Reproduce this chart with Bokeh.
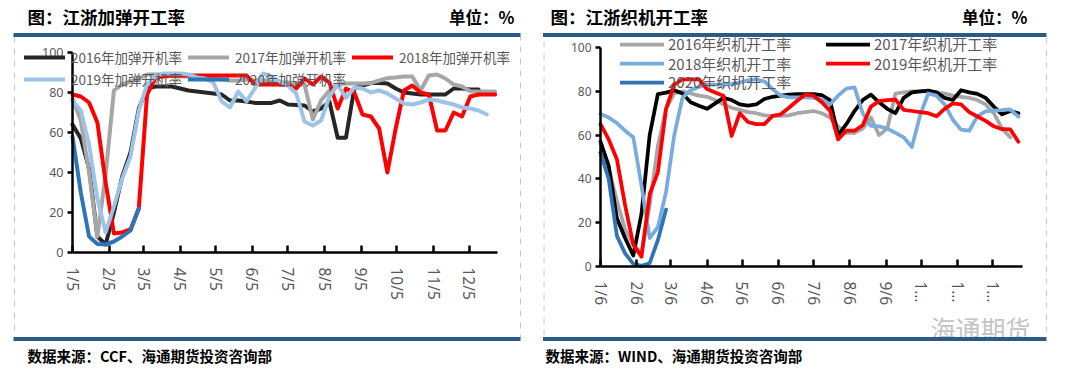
import pandas as pd
from bokeh.plotting import figure
from bokeh.models import Range1d, FixedTicker, Legend, LegendItem, Label, BoxAnnotation
from bokeh.layouts import row
from bokeh.embed import file_html
from bokeh.resources import INLINE

# ---------------- data: left panel (江浙加弹开工率, weekly from 1/5) ----------------
left_start = "2020-01-05"
left_tick_dates = ["2020-01-05", "2020-02-05", "2020-03-05", "2020-04-05", "2020-05-05", "2020-06-05",
                   "2020-07-05", "2020-08-05", "2020-09-05", "2020-10-05", "2020-11-05", "2020-12-05"]
left_tick_labels = ["1/5", "2/5", "3/5", "4/5", "5/5", "6/5", "7/5", "8/5", "9/5", "10/5", "11/5", "12/5"]
left_names = ["2016年加弹开机率", "2017年加弹开机率", "2018年加弹开机率", "2019年加弹开机率", "2020年加弹开机率"]
L2016 = [64, 57, 42, 8, 4, 20, 38, 50, 72, 82, 83, 83, 83, 82, 81, 80.5, 80, 79.5, 79, 76,
         76, 75.5, 74.8, 74.8, 74.8, 76, 74, 73.8, 73.5, 70.5, 72, 75.5, 57.4, 57.4, 82, 83.5, 84.7, 84.7, 84.5, 82,
         80, 79.5, 79, 79, 79, 79, 82, 82, 81.5, 81.5]
L2017 = [77, 66, 40, 8, 39, 81, 84, 85.5, 87, 89, 89, 89, 88.5, 88, 88, 87.5, 87, 87, 86.5, 86,
         86, 86.5, 86, 86, 85.5, 85, 85, 84.5, 84, 66.5, 76, 81, 84, 84.5, 84.5, 84.5, 84.7, 86, 87.2, 87.5,
         88, 88, 81, 88.5, 89, 87, 84, 83, 80.6, 80.5, 80.5, 80.5]
L2018 = [79, 78, 75, 65, 35, 9.5, 10, 11.5, 22, 79, 87.5, 88, 88.5, 88.5, 88.5, 88.5, 88.5, 88.5, 88.5, 88.5,
         88.5, 88.5, 84, 84, 84, 84, 83.9, 82, 87, 84, 88, 85, 72, 82, 80, 69, 68, 62, 40, 62,
         81, 83.5, 80, 79, 61, 61, 70, 68, 78, 79, 79, 79]
L2019 = [76, 71, 54, 27, 10, 23, 37, 48, 71, 84, 88, 89.5, 89.5, 89.5, 89, 87.5, 87, 85, 75.5, 72.5,
         80.5, 75.6, 82, 89.5, 88, 85.5, 83.5, 79.5, 65.5, 63.5, 66, 78, 84, 77.3, 82.5, 82, 80, 81, 79.5, 77,
         74.5, 74, 75, 76.5, 76, 75, 74, 72.5, 72, 71, 69]
L2020 = [58, 30, 8, 4.3, 4, 5.5, 8, 11, 22]

# ---------------- data: right panel (江浙织机开工率, weekly from 1/6) ----------------
right_start = "2020-01-06"
right_tick_dates = ["2020-01-06", "2020-02-06", "2020-03-06", "2020-04-06", "2020-05-06", "2020-06-06",
                    "2020-07-06", "2020-08-06", "2020-09-06", "2020-10-06", "2020-11-06", "2020-12-06"]
right_tick_labels = ["1/6", "2/6", "3/6", "4/6", "5/6", "6/6", "7/6", "8/6", "9/6", "1…", "1…", "1…"]
right_names = ["2016年织机开工率", "2017年织机开工率", "2018年织机开工率", "2019年织机开工率", "2020年织机开工率"]
R2016 = [52, 45, 30, 17, 10, 6, 28, 55, 72, 79, 80, 79, 78, 77.5, 76, 74, 72.5, 71.5, 70.5, 70,
         69, 68.8, 68.8, 69, 70, 70.5, 71, 70, 68, 64, 61, 61, 63, 68, 60, 63, 79, 79.5, 80, 80,
         80, 79.5, 79, 78, 77.5, 77, 76, 74, 70, 63, 59]
R2017 = [57, 46, 22, 13, 5, 24, 60, 78.7, 79.4, 80.5, 79, 75, 73.4, 72, 74.5, 77, 76, 74, 73.5, 74,
         76.5, 77.5, 78, 78.5, 78.7, 78.7, 78.7, 78.3, 76, 60, 65, 71, 76, 78.5, 75, 72, 70, 77, 79.5, 80,
         80.3, 79.5, 77, 76, 80.5, 79.5, 78.8, 77, 73, 69.5, 71, 70]
R2018 = [69.6, 68, 65.5, 62, 59, 37, 13, 18, 34, 60, 77, 80.5, 82, 83, 83, 83, 83.3, 84, 85, 85.5,
         84.5, 81, 78, 77.2, 77.2, 77.2, 77, 76.3, 74, 78, 81.2, 81.8, 70, 64.2, 64, 63, 61, 59, 54.5, 69,
         79, 78, 74, 67, 62.5, 62, 68.7, 70.8, 71.2, 71.4, 71.7, 68.5]
R2019 = [65, 58, 49, 28, 10, 4.5, 33, 43, 72, 83, 85.5, 85.5, 85.5, 81, 79.5, 78, 59.6, 70, 66, 65,
         65, 68.8, 69.5, 72.5, 75.7, 78.5, 78, 75, 71.2, 58, 62, 62, 64.5, 73, 75.5, 76, 76.2, 71.5, 71, 70.5,
         70, 68.6, 72, 74.5, 74, 70.5, 68.5, 66.5, 64, 62.7, 62.6, 57]
R2020 = [52, 40, 14, 6, 1.2, 0.3, 1.5, 12, 26]

LEFT_COLORS = ["#262626", "#A6A6A6", "#FF0000", "#9DC3E6", "#2E75B6"]
RIGHT_COLORS = ["#A6A6A6", "#000000", "#78ACDD", "#FF0000", "#2E75B6"]

W, H = 533, 376
BAR = "#2B5A87"
TXT = "#595959"
CJK = "Noto Sans CJK SC"


def day_offsets(start, n):
    d = pd.date_range(start, periods=n, freq="7D")
    return [int((x - pd.Timestamp(start)).days) for x in d]


def make_panel(start, tick_dates, tick_labels, names, series, colors, frame, xmax,
               title, source, lw, ytick_size, legend_rows, watermark=False, chrome=None):
    # frame = pixel positions of x=0, x=xmax, y=100, y=0 inside the panel
    fl, fr, ft, fb = frame
    kx = (fr - fl) / xmax
    ky = (fb - ft) / 100.0
    p = figure(width=W, height=H,
               x_range=Range1d(-fl / kx, (W - fl) / kx),
               y_range=Range1d(-(H - fb) / ky, 100 + ft / ky),
               output_backend="svg", toolbar_location=None,
               min_border_left=0, min_border_right=0, min_border_top=0, min_border_bottom=0)
    p.outline_line_color = None
    p.grid.visible = False
    p.background_fill_color = "white"
    p.border_fill_color = "white"

    ticks = [int((pd.Timestamp(t) - pd.Timestamp(start)).days) for t in tick_dates]
    xa = p.xaxis[0]
    xa.fixed_location = 0
    xa.bounds = (0, xmax)
    xa.ticker = FixedTicker(ticks=ticks)
    xa.major_label_overrides = {t: l for t, l in zip(ticks, tick_labels)}
    xa.major_label_orientation = "vertical"
    xa.axis_line_width = 2.5
    xa.axis_line_color = "black"
    xa.major_tick_in = 7
    xa.major_tick_out = 0
    xa.major_tick_line_width = 2.5
    xa.major_tick_line_color = "black"
    xa.minor_tick_line_color = None
    xa.major_label_text_font = "Noto Sans"
    xa.major_label_text_font_size = "15.5px"
    xa.major_label_text_color = TXT
    xa.major_label_standoff = 15

    ya = p.yaxis[0]
    ya.fixed_location = 0
    ya.bounds = (0, 100)
    ya.ticker = FixedTicker(ticks=[0, 20, 40, 60, 80, 100])
    ya.axis_line_width = 2.5
    ya.axis_line_color = "black"
    ya.major_tick_in = 0
    ya.major_tick_out = 5
    ya.major_tick_line_width = 2.5
    ya.major_tick_line_color = "black"
    ya.minor_tick_line_color = None
    ya.major_label_text_font = "Noto Sans"
    ya.major_label_text_font_size = ytick_size
    ya.major_label_text_color = TXT
    ya.major_label_standoff = 4

    # chrome in canvas coordinates (top-left origin) -> screen units (bottom-left origin)
    def sx(cx):
        return cx

    def sy(cy):
        return H - cy

    def box(x0, x1, y0, y1, fill=None, line=None, dash="solid", level="overlay"):
        b = BoxAnnotation(left=sx(x0), right=sx(x1), top=sy(y0), bottom=sy(y1),
                          left_units="screen", right_units="screen", top_units="screen", bottom_units="screen",
                          fill_color=fill if fill else "white", fill_alpha=1 if fill else 0,
                          line_color=line if line else "white", line_alpha=1 if line else 0,
                          line_dash=dash, line_width=1, level=level)
        p.add_layout(b)

    def lab(text, cx, cy, size, bold=False, color="black", align="left", font=CJK):
        p.add_layout(Label(x=sx(cx), y=sy(cy), x_units="screen", y_units="screen", text=text,
                           text_font=font, text_font_size=size,
                           text_font_style="bold" if bold else "normal",
                           text_color=color, text_align=align, text_baseline="middle"))

    c = chrome
    box(c["bx0"] + 1, c["bx1"], 36, 337, line="#C8C8C8", dash="dashed", level="underlay")

    renderers = []
    for vals, col in zip(series, colors):
        xs = day_offsets(start, len(vals))
        r = p.line(xs, vals, line_color=col, line_width=lw, line_join="round", line_cap="round")
        renderers.append(r)

    for idxs, cfg in legend_rows:
        items = [LegendItem(label=names[i], renderers=[renderers[i]]) for i in idxs]
        lx, lcy, h = cfg.pop("x"), cfg.pop("cy"), cfg.pop("h")
        lg = Legend(items=items, location=(sx(lx), sy(lcy + h / 2.0)), orientation="horizontal",
                    glyph_height=h, label_height=h, padding=0, margin=0,
                    background_fill_alpha=0, border_line_alpha=0,
                    label_text_color=TXT, label_text_font=CJK, **cfg)
        p.add_layout(lg)

    box(c["bx0"], c["bx1"], 32.5, 36.5, fill=BAR)
    box(c["bx0"], c["bx1"], 336.5, 340.5, fill=BAR)
    lab(title, c["tx"], 16, "17.5px", bold=True)
    lab("单位：%", c["ux"], 16, "16.5px", bold=True, align="right")
    lab(source, c["sx"], 355, "14.5px", bold=True)
    if watermark:
        lab("海通期货", 497, 327, "25px", color="#C4C4C4", align="right")
    return p


left = make_panel(
    left_start, left_tick_dates, left_tick_labels, left_names,
    [L2016, L2017, L2018, L2019, L2020], LEFT_COLORS,
    frame=(72, 497, 52, 252), xmax=359,
    title="图：江浙加弹开工率", source="数据来源：CCF、海通期货投资咨询部",
    lw=4, ytick_size="12.5px",
    legend_rows=[
        ([0, 1, 2], dict(x=24, cy=57, h=20, glyph_width=41, label_standoff=6, label_width=107,
                         spacing=6, label_text_font_size="13.5px")),
        ([3, 4], dict(x=24, cy=79, h=20, glyph_width=41, label_standoff=6, label_width=107,
                      spacing=6, label_text_font_size="13.5px")),
    ],
    chrome=dict(bx0=13, bx1=520, tx=27, ux=514, sx=27))

right = make_panel(
    right_start, right_tick_dates, right_tick_labels, right_names,
    [R2016, R2017, R2018, R2019, R2020], RIGHT_COLORS,
    frame=(67, 489, 47, 266), xmax=360.5,
    title="图：江浙织机开工率", source="数据来源：WIND、海通期货投资咨询部",
    lw=3.75, ytick_size="12px",
    legend_rows=[
        ([0, 1], dict(x=620 - 533, cy=44, h=20, glyph_width=44, label_standoff=4, label_width=156,
                      spacing=2, label_text_font_size="15px")),
        ([2, 3], dict(x=620 - 533, cy=63.5, h=20, glyph_width=44, label_standoff=4, label_width=156,
                      spacing=2, label_text_font_size="15px")),
        ([4], dict(x=620 - 533, cy=82, h=20, glyph_width=44, label_standoff=4, label_width=156,
                   spacing=2, label_text_font_size="15px")),
    ],
    watermark=True,
    chrome=dict(bx0=9.5, bx1=513, tx=17, ux=494, sx=12))

layout = row(left, right, spacing=0)
open("out.html", "w").write(file_html(layout, INLINE))
